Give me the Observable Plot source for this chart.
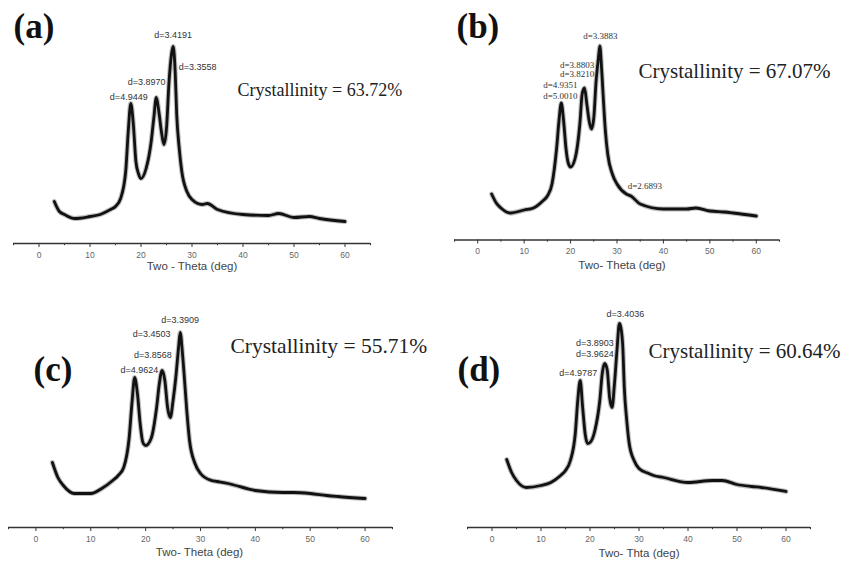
<!DOCTYPE html>
<html><head><meta charset="utf-8">
<script src="https://cdn.jsdelivr.net/npm/d3@7"></script>
<script src="https://cdn.jsdelivr.net/npm/@observablehq/plot@0.6"></script>
<style>
body{margin:0;background:#fff;}
#wrap{position:relative;width:845px;height:561px;overflow:hidden;background:#fff;}
.panel{position:absolute;}
.panel svg{overflow:visible;}
</style></head><body><div id="wrap"></div><script>
// ---- data ----
const twoTheta = [3,4,5,7,10,12,14,15,16,17,17.5,18,18.5,19,19.5,20,21,22,22.5,23,23.5,24,24.5,25,25.5,26,26.3,26.7,27,27.5,28,29,30,32,33,35,40,45,47,50,53,55,60];
const intensityA = [42,32,29,25,27,29,34,37,45,72,112,140,119,82,70,65,75,102,125,146,132,112,99,115,162,190,197,172,129,95,72,52,44,39,40,34,29,28,30,26,27,25,22];
const intensityB = [46,37,32,27,30,32,39,44,56,92,119,137,119,92,77,73,82,116,146,152,136,119,111,122,159,182,194,170,146,109,86,66,56,46,44,36,31,31,32,29,28,27,24];
const intensityC = [65,50,42,34,34,39,47,52,60,90,124,150,134,104,85,82,89,120,144,157,147,120,110,127,150,180,195,175,154,117,87,64,54,47,46,44,37,35,35,34,32,31,29];
const intensityD = [68,55,47,40,42,45,52,57,67,94,127,147,120,94,84,85,97,127,154,164,158,130,120,144,177,204,200,180,140,107,84,67,59,54,52,50,45,47,47,43,41,40,36];

const majorTicks = [0,10,20,30,40,50,60];
const minorTicks = [-5,5,15,25,35,45,55,65];

const panelTags = ["(a)","(b)","(c)","(d)"];
const crystallinity = ["Crystallinity = 63.72%","Crystallinity = 67.07%","Crystallinity = 55.71%","Crystallinity = 60.64%"];
const axisTitles = ["Two - Theta (deg)","Two- Theta (deg)","Two- Theta (deg)","Two- Thta (deg)"];

const peakTextA = ["d=4.9449","d=3.8970","d=3.4191","d=3.3558"];
const peakXA = [17.6,21.1,26.3,31.1];
const peakYA = [146,161,208,176];
const peakTextB = ["d=3.3883","d=3.8803","d=3.8210","d=4.9351","d=5.0010","d=2.6893"];
const peakXB = [26.4,21.4,21.4,17.8,17.8,36.0];
const peakYB = [203.5,174.5,166,155,143.5,54];
const peakTextC = ["d=3.3909","d=3.4503","d=3.8568","d=4.9624"];
const peakXC = [26.3,21.1,21.3,18.85];
const peakYC = [207.5,193,172.5,157.5];
const peakTextD = ["d=3.4036","d=3.8903","d=3.9624","d=4.9787"];
const peakXD = [27.2,21.0,21.0,17.6];
const peakYD = [213.5,184,173.5,154];

// ---- layout (pixels) ----
const layout = [
  {left:0,   top:0,   width:420, height:280, axisY:243,   xL:13, xR:370, values:intensityA, pt:peakTextA, px:peakXA, py:peakYA,
   tag:{dx:0,dy:37}, cr:{dx:224,dy:95,size:18}, title:{dx:0,dy:26}, peakFont:"'Liberation Sans',Arial,sans-serif"},
  {left:420, top:0,   width:425, height:280, axisY:239.5, xL:34, xR:359, values:intensityB, pt:peakTextB, px:peakXB, py:peakYB,
   tag:{dx:2,dy:37}, cr:{dx:184,dy:77,size:21}, title:{dx:5,dy:29}, peakFont:"'Liberation Serif','Times New Roman',serif"},
  {left:0,   top:280, width:420, height:281, axisY:247,   xL:8,  xR:392, values:intensityC, pt:peakTextC, px:peakXC, py:peakYC,
   tag:{dx:25,dy:100}, cr:{dx:222,dy:72.5,size:21.5}, title:{dx:-1,dy:28.5}, peakFont:"'Liberation Sans',Arial,sans-serif"},
  {left:420, top:280, width:425, height:281, axisY:247,   xL:47, xR:390, values:intensityD, pt:peakTextD, px:peakXD, py:peakYD,
   tag:{dx:-10,dy:100}, cr:{dx:181,dy:77,size:21}, title:{dx:0,dy:29}, peakFont:"'Liberation Sans',Arial,sans-serif"}
];

const wrap = document.getElementById("wrap");
const sans = "'Liberation Sans',Arial,sans-serif";
const serif = "'Liberation Serif','Times New Roman',serif";

layout.forEach((p, k) => {
  const rows = twoTheta.map((t, i) => ({t, v: p.values[i]}));
  const labels = p.pt.map((s, i) => ({s, x: p.px[i], y: p.py[i]}));
  const chart = Plot.plot({
    width: p.width, height: p.height,
    marginLeft: p.xL, marginRight: p.width - p.xR, marginTop: 0, marginBottom: p.height - p.axisY,
    x: {domain: [-5, 65]},
    y: {domain: [0, p.axisY], axis: null},
    style: {background: "transparent", overflow: "visible"},
    marks: [
      Plot.ruleY([0], {stroke: "#333", strokeWidth: 1.3}),
      Plot.axisX({ticks: majorTicks, tickSize: 4, tickPadding: 4, fontSize: 8.5, fill: "#666", stroke: "#333", label: null, fontFamily: sans}),
      Plot.ruleX(minorTicks, {x: d => d, y1: 0, y2: -2.2, stroke: "#333"}),
      Plot.line(rows, {x: "t", y: "v", stroke: "#888", strokeOpacity: 0.55, strokeWidth: 5, curve: "monotone-x", strokeLinejoin: "round"}),
      Plot.line(rows, {x: "t", y: "v", stroke: "#111", strokeWidth: 2.8, curve: "monotone-x", strokeLinejoin: "round"}),
      Plot.text(labels, {x: "x", y: "y", text: "s", fontSize: 9, fill: "#333", fontFamily: p.peakFont}),
      Plot.text([panelTags[k]], {text: d => d, frameAnchor: "top-left", dx: p.tag.dx, dy: p.tag.dy, lineAnchor: "bottom", textAnchor: "start",
        fontSize: 35, fontWeight: "bold", fontFamily: serif, fill: "#111"}),
      Plot.text([crystallinity[k]], {text: d => d, frameAnchor: "top-left", dx: p.cr.dx, dy: p.cr.dy, lineAnchor: "bottom", textAnchor: "start",
        fontSize: p.cr.size, fontFamily: serif, fill: "#222"}),
      Plot.text([axisTitles[k]], {text: d => d, frameAnchor: "bottom", dx: p.title.dx, dy: p.title.dy, fontSize: 11.5, fill: "#444", fontFamily: sans})
    ]
  });
  const div = document.createElement("div");
  div.className = "panel";
  div.style.left = p.left + "px";
  div.style.top = p.top + "px";
  div.style.width = p.width + "px";
  div.style.height = p.height + "px";
  div.appendChild(chart);
  wrap.appendChild(div);
});
</script></body></html>
